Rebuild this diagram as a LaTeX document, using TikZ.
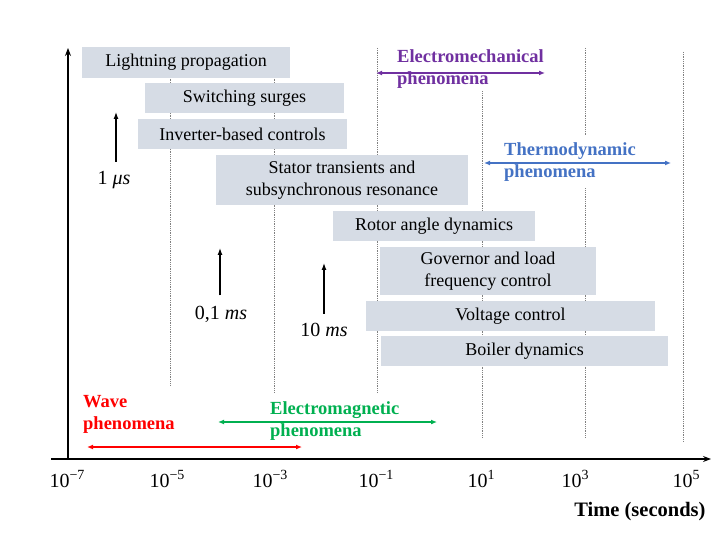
\RequirePackage{fix-cm}
\documentclass[tikz,border=0pt]{standalone}
\usepackage{fontspec}
\setmainfont{Liberation Serif}
\usetikzlibrary{arrows.meta,positioning}
\definecolor{boxfill}{HTML}{D6DCE5}
\definecolor{mechpurple}{HTML}{7030A0}
\definecolor{thermoblue}{HTML}{4472C4}
\definecolor{wavered}{HTML}{FF0000}
\definecolor{emgreen}{HTML}{00B050}
\newcommand\tenpow[1]{10\raisebox{0.42em}{\fontsize{14}{14}\selectfont #1}}

\begin{document}
\begin{tikzpicture}[x=1pt, y=-1pt,
  phase/.style={fill=boxfill, inner sep=0pt, align=center, font=\fontsize{18}{22}\selectfont},
  grid line/.style={densely dotted, gray, line width=0.8pt},
  tick/.style={font=\fontsize{20}{22}\selectfont},
  phen/.style={font=\bfseries\fontsize{18.5}{22}\selectfont, align=left, inner sep=2pt, anchor=west},
  span/.style={{Latex[length=6pt,width=5pt]}-{Latex[length=6pt,width=5pt]}, line width=1.2pt},
  scale arrow/.style={-{Latex[length=7pt,width=5pt]}, line width=1.2pt}]
  \useasboundingbox (0,0) rectangle (727,534);

  % grid
  \draw[grid line] (170,48) -- (170,385);
  \draw[grid line] (274,48) -- (274,393);
  \draw[grid line] (377,48) -- (377,393);
  \draw[grid line] (482,48) -- (482,437);
  \draw[grid line] (585,48) -- (585,437);
  \draw[grid line] (683,52) -- (683,442);

  % axes
  \coordinate (origin) at (68,459);
  \coordinate (xstart) at (51,459);
  \coordinate (xend) at (711,459);
  \coordinate (yend) at (68,48);
  \draw[-{Stealth[length=8pt,width=6pt]}, line width=1.1pt] (xstart) -- (xend);
  \draw[-{Stealth[length=8pt,width=6pt]}, line width=1.1pt] (origin) -- (yend);

  % ticks
  \node[tick] (t7) at (67,479) {\tenpow{−7}};
  \node[tick] (t5) at (167,479) {\tenpow{−5}};
  \node[tick] (t3) at (270,479) {\tenpow{−3}};
  \node[tick] (t1) at (376,479) {\tenpow{−1}};
  \node[tick] (p1) at (481,479) {\tenpow{1}};
  \node[tick] (p3) at (575,479) {\tenpow{3}};
  \node[tick] (p5) at (686,479) {\tenpow{5}};
  \node[font=\bfseries\fontsize{20.5}{22}\selectfont, anchor=east] (time) at (709,512) {Time (seconds)};

  % phenomena boxes
  \node[phase, minimum width=208, minimum height=31] (light) at (186,62.5) {Lightning propagation};
  \node[phase, minimum width=199, minimum height=30] (surge) at (244.5,98) {Switching surges};
  \node[phase, minimum width=209, minimum height=30] (inv) at (242.5,134) {Inverter-based controls};
  \node[phase, minimum width=252, minimum height=50] (stator) at (342,180) {Stator transients and\\subsynchronous resonance};
  \node[phase, minimum width=202, minimum height=30] (rotor) at (434,226) {Rotor angle dynamics};
  \node[phase, minimum width=216, minimum height=48] (gov) at (488,271) {Governor and load\\frequency control};
  \node[phase, minimum width=289, minimum height=30] (volt) at (510.5,316) {Voltage control};
  \node[phase, minimum width=287, minimum height=30] (boil) at (524.5,351) {Boiler dynamics};

  % time scale markers
  \node[tick] (us) at (114,180) {1 \textit{μs}};
  \node[tick] (ms1) at (221,314) {0,1 \textit{ms}};
  \node[tick] (ms10) at (324,330) {10 \textit{ms}};
  \coordinate (us-top) at (116,112);
  \coordinate (ms1-top) at (220,248);
  \coordinate (ms10-top) at (324,263);
  \draw[scale arrow] ([xshift=2pt,yshift=6pt]us.north) -- (us-top);
  \draw[scale arrow] ([xshift=-1pt,yshift=7pt]ms1.north) -- (ms1-top);
  \draw[scale arrow] ([yshift=6pt]ms10.north) -- (ms10-top);

  % ranges
  \node[phen, text=mechpurple, fill=white, inner ysep=3pt] (mech) at (395,69) {Electromechanical\\phenomena};
  \node[phen, text=thermoblue, fill=white, inner ysep=7pt] (thermo) at (502,162) {Thermodynamic\\phenomena};
  \node[phen, text=wavered] (wave) at (81,414) {Wave\\phenomena};
  \node[phen, text=emgreen] (emag) at (268,421) {Electromagnetic\\phenomena};
  \coordinate (mech-l) at (376,73);
  \coordinate (mech-r) at (545,73);
  \coordinate (thermo-l) at (484,163);
  \coordinate (thermo-r) at (671,163);
  \coordinate (wave-l) at (87,447);
  \coordinate (wave-r) at (302,447);
  \coordinate (emag-l) at (218,422);
  \coordinate (emag-r) at (437,422);
  \draw[span, mechpurple] (mech-l) -- (mech-r);
  \draw[span, thermoblue] (thermo-l) -- (thermo-r);
  \draw[span, wavered] (wave-l) -- (wave-r);
  \draw[span, emgreen] (emag-l) -- (emag-r);
\end{tikzpicture}
\end{document}
